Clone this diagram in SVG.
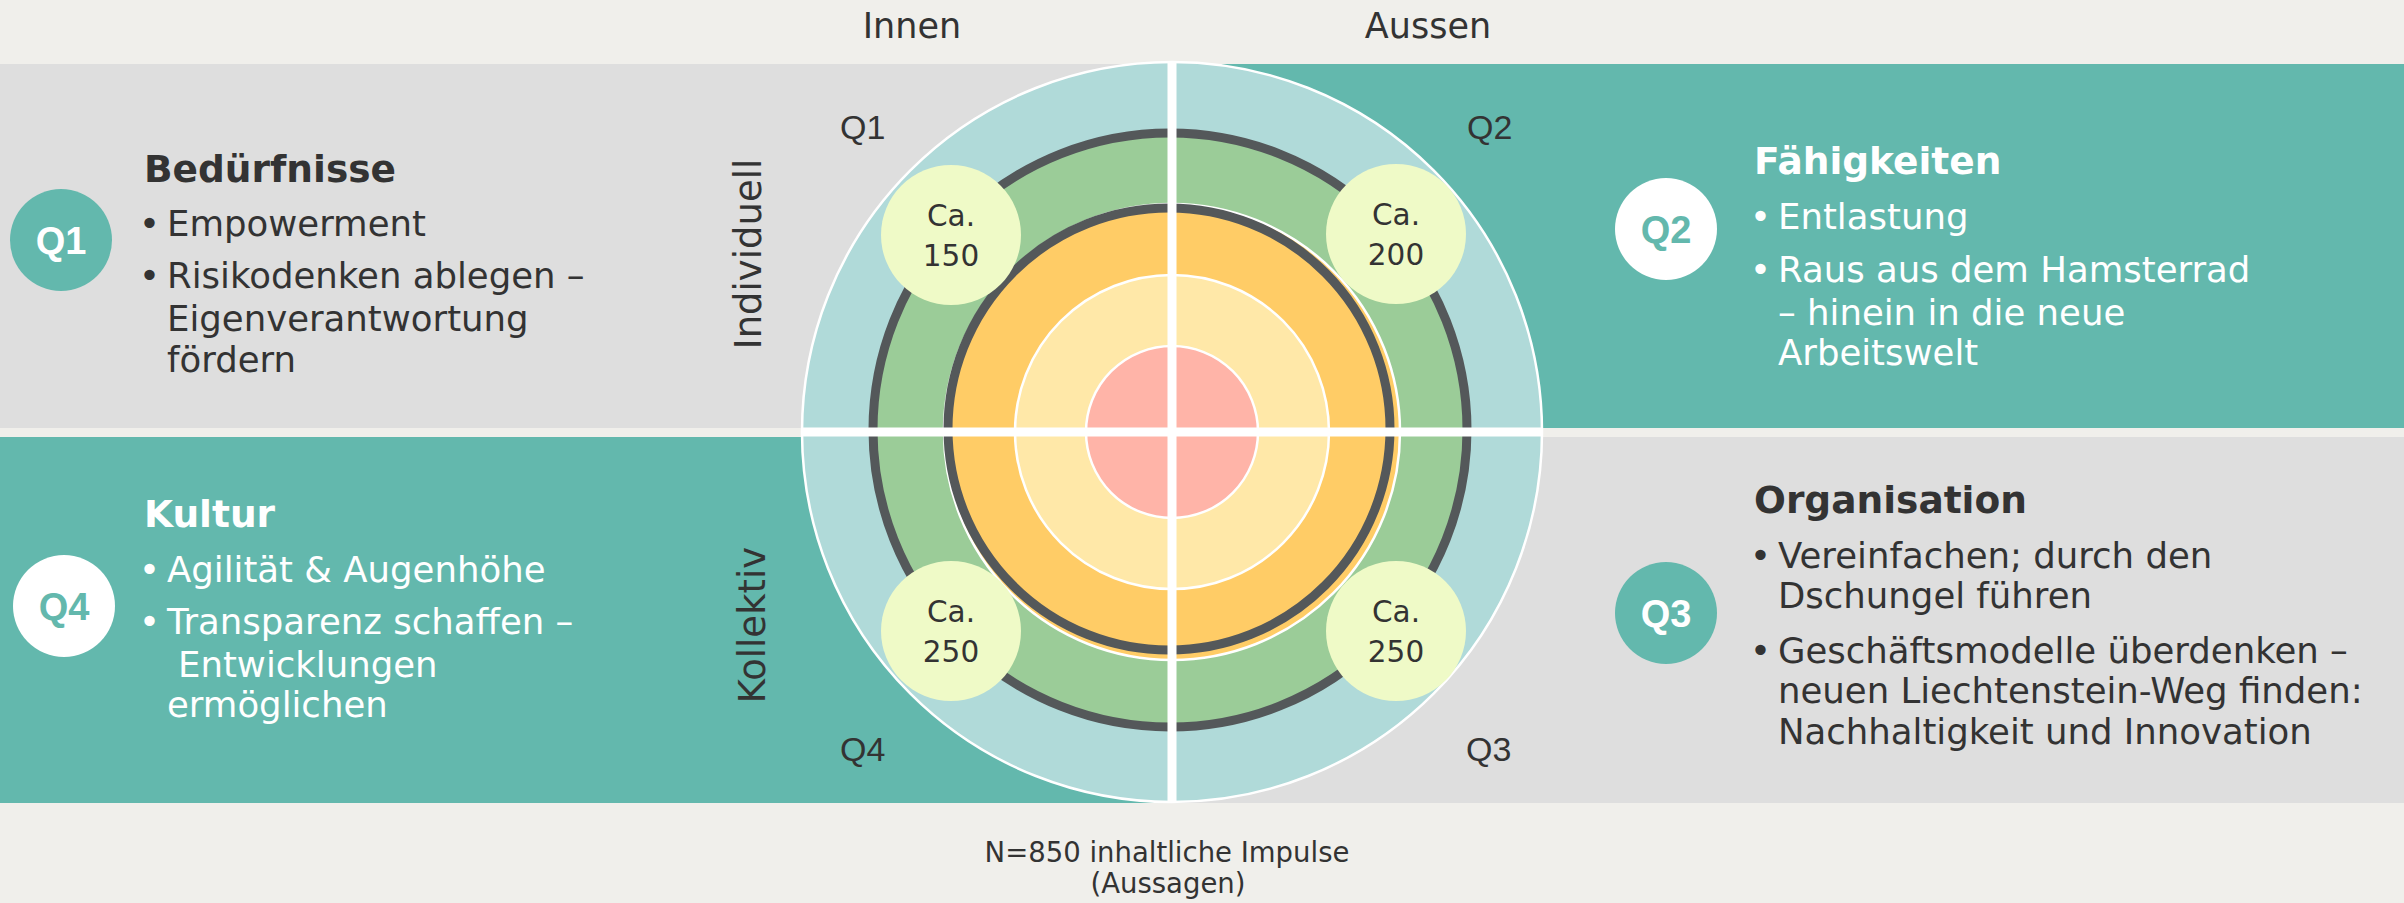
<svg xmlns="http://www.w3.org/2000/svg" width="2404" height="903" viewBox="0 0 2404 903">
<style>
.t{font-family:"DejaVu Sans",sans-serif;}
.title{font-family:"DejaVu Sans",sans-serif;font-weight:bold;font-size:37.5px;}
.b{font-family:"DejaVu Sans",sans-serif;font-size:35.5px;}
.dk{fill:#333333;}
.wh{fill:#ffffff;}
.badge{font-family:"Liberation Sans",Arial,sans-serif;font-weight:bold;font-size:38px;text-anchor:middle;}
.ql{font-family:"Liberation Sans",Arial,sans-serif;font-size:34px;fill:#333333;}
.bub{fill:#EFFAC7;}
.bt{font-family:"DejaVu Sans",sans-serif;font-size:29.5px;fill:#333333;text-anchor:middle;}
.axis{font-family:"DejaVu Sans",sans-serif;font-size:37px;fill:#333333;text-anchor:middle;}
.head{font-family:"DejaVu Sans",sans-serif;font-size:35px;fill:#333333;text-anchor:middle;}
.foot{font-family:"DejaVu Sans",sans-serif;font-size:27.5px;fill:#333333;text-anchor:middle;}
</style>
<rect x="0" y="0" width="2404" height="903" fill="#F0EFEB"/>
<g id="bands">
<rect x="0" y="64" width="1172" height="364" fill="#DEDEDE"/>
<rect x="1172" y="64" width="1232" height="364" fill="#63B8AD"/>
<rect x="0" y="437" width="1172" height="366" fill="#63B8AD"/>
<rect x="1172" y="437" width="1232" height="366" fill="#DEDEDE"/>
</g>
<g id="headers">
<text class="head" x="912" y="38">Innen</text>
<text class="head" x="1428" y="38">Aussen</text>
</g>
<g id="target">
<circle cx="1172" cy="432" r="370" fill="#B0DAD9" stroke="#ffffff" stroke-width="2.5"/>
<circle cx="1170" cy="430" r="297" fill="#9BCC98" stroke="#54585A" stroke-width="9"/>
<circle cx="1172" cy="432" r="228" fill="#FFCC66" stroke="#ffffff" stroke-width="2.5"/>
<circle cx="1169" cy="429" r="221" fill="none" stroke="#54585A" stroke-width="9"/>
<circle cx="1172" cy="432" r="157" fill="#FFE8A8" stroke="#ffffff" stroke-width="2.5"/>
<circle cx="1172" cy="432" r="86" fill="#FFB4A8" stroke="#ffffff" stroke-width="2.5"/>
</g>
<g id="connectors">
<line x1="1172" y1="62" x2="1172" y2="802" stroke="#ffffff" stroke-width="9"/>
<line x1="801" y1="432" x2="1543" y2="432" stroke="#ffffff" stroke-width="9"/>
</g>
<g id="bubble-q1">
<circle class="bub" cx="951" cy="235" r="70"/>
<text class="bt" x="951" y="226">Ca.</text>
<text class="bt" x="951" y="266">150</text>
</g>
<g id="bubble-q2">
<circle class="bub" cx="1396" cy="234" r="70"/>
<text class="bt" x="1396" y="225">Ca.</text>
<text class="bt" x="1396" y="265">200</text>
</g>
<g id="bubble-q4">
<circle class="bub" cx="951" cy="631" r="70"/>
<text class="bt" x="951" y="622">Ca.</text>
<text class="bt" x="951" y="662">250</text>
</g>
<g id="bubble-q3">
<circle class="bub" cx="1396" cy="631" r="70"/>
<text class="bt" x="1396" y="622">Ca.</text>
<text class="bt" x="1396" y="662">250</text>
</g>
<g id="quadrant-labels">
<text class="ql" x="840" y="139">Q1</text>
<text class="ql" x="1467" y="139">Q2</text>
<text class="ql" x="1466" y="761">Q3</text>
<text class="ql" x="840" y="761">Q4</text>
<text class="axis" transform="translate(761,254) rotate(-90)">Individuell</text>
<text class="axis" transform="translate(765,625) rotate(-90)">Kollektiv</text>
</g>
<g id="q1">
<circle cx="61" cy="240" r="51" fill="#63B8AD"/>
<text class="badge wh" x="61" y="254">Q1</text>
<text class="title dk" x="144" y="182">Bedürfnisse</text>
<text class="b dk" x="139" y="236">•</text>
<text class="b dk" x="167" y="236">Empowerment</text>
<text class="b dk" x="139" y="288">•</text>
<text class="b dk" x="167" y="288">Risikodenken ablegen –</text>
<text class="b dk" x="167" y="331">Eigenverantwortung</text>
<text class="b dk" x="167" y="372">fördern</text>
</g>
<g id="q2">
<circle cx="1666" cy="229" r="51" fill="#ffffff"/>
<text class="badge" fill="#63B8AD" x="1666" y="243">Q2</text>
<text class="title wh" x="1754" y="174">Fähigkeiten</text>
<text class="b wh" x="1750" y="229">•</text>
<text class="b wh" x="1778" y="229">Entlastung</text>
<text class="b wh" x="1750" y="282">•</text>
<text class="b wh" x="1778" y="282">Raus aus dem Hamsterrad</text>
<text class="b wh" x="1778" y="325">– hinein in die neue</text>
<text class="b wh" x="1778" y="365">Arbeitswelt</text>
</g>
<g id="q3">
<circle cx="1666" cy="613" r="51" fill="#63B8AD"/>
<text class="badge wh" x="1666" y="627">Q3</text>
<text class="title dk" x="1754" y="513">Organisation</text>
<text class="b dk" x="1750" y="568">•</text>
<text class="b dk" x="1778" y="568">Vereinfachen; durch den</text>
<text class="b dk" x="1778" y="608">Dschungel führen</text>
<text class="b dk" x="1750" y="663">•</text>
<text class="b dk" x="1778" y="663">Geschäftsmodelle überdenken –</text>
<text class="b dk" x="1778" y="703">neuen Liechtenstein-Weg finden:</text>
<text class="b dk" x="1778" y="744">Nachhaltigkeit und Innovation</text>
</g>
<g id="q4">
<circle cx="64" cy="606" r="51" fill="#ffffff"/>
<text class="badge" fill="#63B8AD" x="64" y="620">Q4</text>
<text class="title wh" x="144" y="527">Kultur</text>
<text class="b wh" x="139" y="582">•</text>
<text class="b wh" x="167" y="582">Agilität &amp; Augenhöhe</text>
<text class="b wh" x="139" y="634">•</text>
<text class="b wh" x="167" y="634">Transparenz schaffen –</text>
<text class="b wh" x="178" y="677">Entwicklungen</text>
<text class="b wh" x="167" y="717">ermöglichen</text>
</g>
<g id="footer">
<text class="foot" x="1167" y="862">N=850 inhaltliche Impulse</text>
<text class="foot" x="1168" y="893">(Aussagen)</text>
</g>
</svg>
